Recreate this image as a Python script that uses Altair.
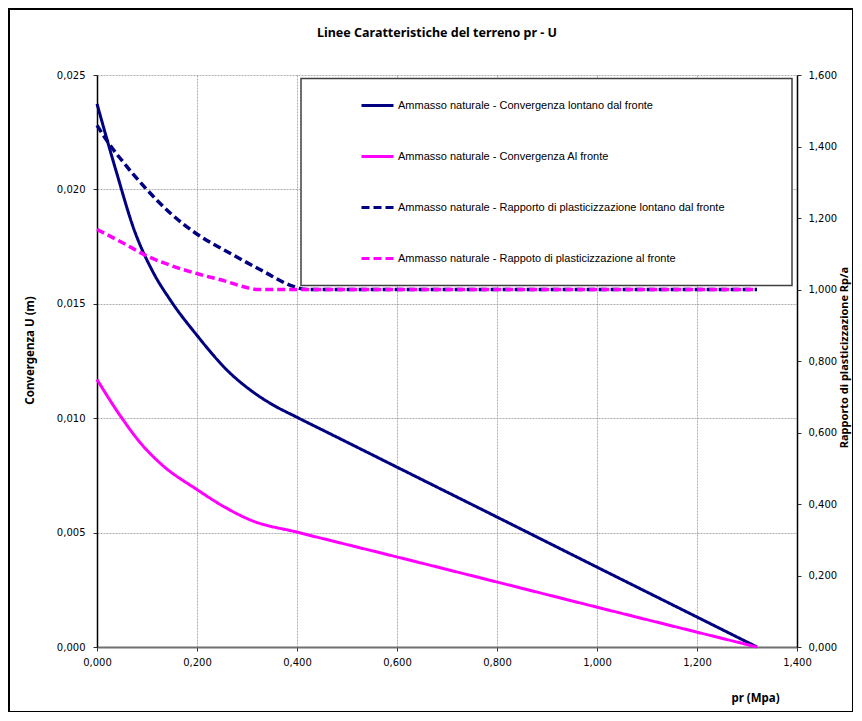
import altair as alt
import pandas as pd

# ---------------- data ----------------
series_names = [
    "Ammasso naturale - Convergenza lontano dal fronte",
    "Ammasso naturale - Convergenza Al fronte",
    "Ammasso naturale - Rapporto di plasticizzazione lontano dal fronte",
    "Ammasso naturale - Rappoto di plasticizzazione al fronte",
]
series_colors = ["#000080", "#FF00FF", "#000080", "#FF00FF"]
series_dashes = [[1, 0], [1, 0], [8, 4], [8, 4]]

# Convergenza U (m) - lontano dal fronte
pr_u_lontano = [0.0, 0.038, 0.075, 0.111, 0.148, 0.2, 0.261, 0.308, 0.348,
                0.4, 0.468, 0.535, 0.6, 0.8, 1.0, 1.2, 1.32]
u_lontano = [0.02374, 0.02082, 0.01819, 0.01643, 0.01512, 0.01362, 0.01208,
             0.01121, 0.01063, 0.01004, 0.00930, 0.00857, 0.00786, 0.00568, 0.00349,
             0.00131, 0.0]

# Convergenza U (m) - al fronte
pr_u_fronte = [0.0, 0.048, 0.088, 0.128, 0.2, 0.255, 0.308, 0.4, 0.468, 0.555,
               0.8, 1.0, 1.2, 1.32]
u_fronte = [0.01169, 0.01006, 0.00889, 0.00800, 0.00688, 0.00612, 0.00554, 0.00502,
            0.00465, 0.00418, 0.00284, 0.00174, 0.00065, 0.0]

# Rapporto di plasticizzazione Rp/a - lontano dal fronte
pr_r_lontano = [0.0, 0.028, 0.055, 0.098, 0.148, 0.201, 0.268, 0.335, 0.388, 0.42, 1.32]
r_lontano = [1.459, 1.400, 1.352, 1.282, 1.212, 1.154, 1.100, 1.049, 1.011, 1.0, 1.0]

# Rapporto di plasticizzazione Rp/a - al fronte
pr_r_fronte = [0.0, 0.055, 0.098, 0.148, 0.201, 0.255, 0.301, 0.32, 1.32]
r_fronte = [1.168, 1.128, 1.095, 1.067, 1.044, 1.024, 1.005, 1.0, 1.0]

x_ticks = [0.0, 0.2, 0.4, 0.6, 0.8, 1.0, 1.2, 1.4]
u_ticks = [0.0, 0.005, 0.010, 0.015, 0.020, 0.025]
r_ticks = [0.0, 0.2, 0.4, 0.6, 0.8, 1.0, 1.2, 1.4, 1.6]

# ---------------- tables ----------------
df_u = pd.concat([
    pd.DataFrame({"pr": pr_u_lontano, "val": u_lontano, "series": series_names[0]}),
    pd.DataFrame({"pr": pr_u_fronte, "val": u_fronte, "series": series_names[1]}),
])
df_r = pd.concat([
    pd.DataFrame({"pr": pr_r_lontano, "val": r_lontano, "series": series_names[2]}),
    pd.DataFrame({"pr": pr_r_fronte, "val": r_fronte, "series": series_names[3]}),
])
one = pd.DataFrame({"k": [0]})

W, H = 700, 572
TICK_FONT = "DejaVu Sans"
TITLE_FONT = "Noto Sans"
comma_fmt = "replace(format(datum.value, '.3f'), '.', ',')"

x_axis = alt.Axis(
    values=x_ticks, labelExpr=comma_fmt, title="pr (Mpa)", labelFlush=False,
    grid=True, gridColor="#9a9a9a", gridDash=[2, 1], gridWidth=0.8,
    domainColor="#707070", domainWidth=2, tickColor="#303030", tickSize=4,
    labelPadding=6, labelFont=TICK_FONT, labelFontSize=10, labelColor="#000000",
    titleFont=TITLE_FONT, titleFontSize=11.5, titleFontWeight="bold", titleColor="#000000",
    titleX=658, titleY=51, titleAlign="center", titleBaseline="middle",
)
x_enc = alt.X("pr:Q", scale=alt.Scale(domain=[0, 1.4], nice=False, zero=False), axis=x_axis)

color_enc = alt.Color(
    "series:N",
    scale=alt.Scale(domain=series_names, range=series_colors),
    legend=alt.Legend(title=None),
)
dash_enc = alt.StrokeDash(
    "series:N",
    scale=alt.Scale(domain=series_names, range=series_dashes),
    legend=alt.Legend(title=None),
)

left = alt.Chart(df_u).mark_line(strokeWidth=3, interpolate="monotone").encode(
    x=x_enc,
    y=alt.Y("val:Q", scale=alt.Scale(domain=[0, 0.025], nice=False),
            axis=alt.Axis(
                orient="left", values=u_ticks, labelExpr=comma_fmt, labelFlush=False,
                title="Convergenza U (m)",
                grid=True, gridColor="#9a9a9a", gridDash=[2, 1], gridWidth=0.8,
                domainColor="#000000", domainWidth=1.5, tickColor="#303030", tickSize=4,
                labelPadding=8, labelFont=TICK_FONT, labelFontSize=10, labelColor="#000000",
                titleFont=TITLE_FONT, titleFontSize=11.5, titleFontWeight="bold",
                titleColor="#000000", titleAngle=270,
                titleX=-67, titleY=275, titleAlign="center", titleBaseline="middle",
            )),
    color=color_enc,
    strokeDash=dash_enc,
)

right = alt.Chart(df_r).mark_line(strokeWidth=3.5, interpolate="monotone").encode(
    x=x_enc,
    y=alt.Y("val:Q", scale=alt.Scale(domain=[0, 1.6], nice=False),
            axis=alt.Axis(
                orient="right", values=r_ticks, labelExpr=comma_fmt, labelFlush=False,
                title="Rapporto di plasticizzazione Rp/a", grid=False,
                domainColor="#000000", domainWidth=1.5, tickColor="#303030", tickSize=4,
                labelPadding=7, labelFont=TICK_FONT, labelFontSize=10, labelColor="#000000",
                titleFont=TITLE_FONT, titleFontSize=11, titleFontWeight="bold",
                titleColor="#000000", titleAngle=270,
                titleX=47, titleY=282, titleAlign="center", titleBaseline="middle",
            )),
    color=color_enc,
    strokeDash=dash_enc,
)

# legend box (decoration)
legend_box = alt.Chart(one).mark_rect(
    fill="white", stroke="#404040", strokeWidth=1.5
).encode(x=alt.value(204), x2=alt.value(695), y=alt.value(3.5), y2=alt.value(210.5))

# outer frame (decoration)
frame = alt.Chart(one).mark_rect(
    fill=None, stroke="#000000", strokeWidth=2
).encode(x=alt.value(-88), x2=alt.value(756), y=alt.value(-66), y2=alt.value(637))

title_text = alt.Chart(one).mark_text(
    text="Linee Caratteristiche del terreno pr - U", font=TITLE_FONT, fontSize=12.5,
    fontWeight="bold", color="#000000", align="center", baseline="middle"
).encode(x=alt.value(340), y=alt.value(-42))

chart = alt.layer(
    left, right, legend_box, frame, title_text
).resolve_scale(
    y="independent"
).properties(
    width=W, height=H,
    autosize=alt.AutoSizeParams(type="none"),
    padding={"left": 89, "top": 67, "right": 56, "bottom": 65},
).configure_view(
    stroke=None
).configure_legend(
    orient="none", legendX=263, legendY=13, padding=0,
    symbolType="stroke", symbolSize=1024, symbolStrokeWidth=3,
    labelFont="Liberation Sans", labelFontSize=11, labelColor="#000000",
    labelLimit=0, labelOffset=3, rowPadding=27,
)

chart.save("out.html", embed_options={"renderer": "svg", "actions": False})
